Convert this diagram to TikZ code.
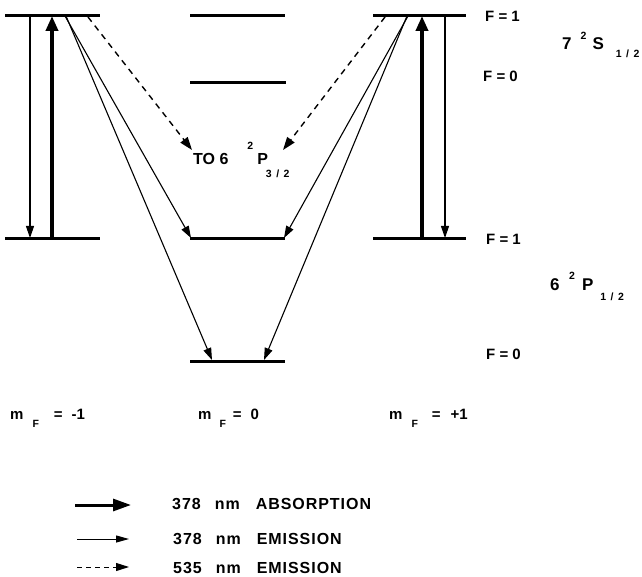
\documentclass[tikz,border=0pt]{standalone}
\usepackage{fontspec}
\setmainfont{Liberation Sans}
\newfontfamily\legfont{Liberation Sans}[LetterSpace=6]
\usetikzlibrary{arrows.meta}
\newcommand{\mylbl}{\fontsize{15pt}{17pt}\selectfont\bfseries}
\newcommand{\mystate}{\fontsize{17pt}{19pt}\selectfont\bfseries}
\newcommand{\mymid}{\fontsize{16pt}{18pt}\selectfont\bfseries}
\newcommand{\mysub}{\fontsize{10.5pt}{12pt}\selectfont\bfseries}
\newcommand{\myfrac}[1]{{\mysub #1\hspace{4.5pt}/\hspace{4.5pt}2}}
\newcommand{\myleg}{\legfont\fontsize{16pt}{18pt}\selectfont\bfseries}
\begin{document}
\begin{tikzpicture}[x=1pt,y=-1pt,
  lev/.style={line width=3pt},
  absarrow/.style={line width=3.8pt,-{Triangle[length=15pt,width=12pt]}},
  emarrow/.style={line width=1.1pt,-{Triangle[length=12pt,width=8pt]}},
  dasharrow/.style={line width=1.4pt,dash pattern=on 6pt off 5pt,-{Triangle[length=13pt,width=9pt]}},
  txt/.style={anchor=base west,inner sep=0pt}]
\useasboundingbox (0,0) rectangle (642,577);
% levels
\coordinate (L1a) at (5,16);   \coordinate (L1b) at (100,16);
\coordinate (L0a) at (5,239);  \coordinate (L0b) at (100,239);
\coordinate (M1a) at (190,16); \coordinate (M1b) at (285,16);
\coordinate (M0a) at (190,83); \coordinate (M0b) at (286,83);
\coordinate (MPa) at (190,239);\coordinate (MPb) at (285,239);
\coordinate (MBa) at (190,361);\coordinate (MBb) at (285,361);
\coordinate (R1a) at (373,16); \coordinate (R1b) at (466,16);
\coordinate (R0a) at (373,239);\coordinate (R0b) at (466,239);
\foreach \a/\b in {L1a/L1b,L0a/L0b,M1a/M1b,M0a/M0b,MPa/MPb,MBa/MBb,R1a/R1b,R0a/R0b}
  \draw[lev] (\a) -- (\b);
% arrow endpoints
\coordinate (lt) at (30,16);  \coordinate (lb) at (30,238);
\coordinate (la) at (52,240); \coordinate (lat) at (52,16);
\coordinate (le1) at (65,16); \coordinate (le2) at (66,16);
\coordinate (ld) at (88,17);
\coordinate (mpl) at (191,238); \coordinate (mbl) at (212,360);
\coordinate (dl) at (192,150); \coordinate (dr) at (283,150);
\coordinate (mpr) at (284,238); \coordinate (mbr) at (264,360);
\coordinate (ra) at (422,240); \coordinate (rat) at (422,16);
\coordinate (rt) at (445,16);  \coordinate (rb) at (445,238);
\coordinate (re1) at (408,16); \coordinate (re2) at (407,16);
\coordinate (rd) at (385,17);
% arrows
\draw[emarrow] (lt) -- (lb);
\draw[absarrow] (la) -- (lat);
\draw[emarrow] (le1) -- (mpl);
\draw[emarrow] (le2) -- (mbl);
\draw[dasharrow] (ld) -- (dl);
\draw[absarrow] (ra) -- (rat);
\draw[emarrow] (rt) -- (rb);
\draw[emarrow] (re1) -- (mpr);
\draw[emarrow] (re2) -- (mbr);
\draw[dasharrow] (rd) -- (dr);
% labels
\node[txt] (f1u) at (485,22) {\mylbl F = 1};
\node[txt] (f0u) at (483,82) {\mylbl F = 0};
\node[txt] (f1l) at (486,244) {\mylbl F = 1};
\node[txt] (f0l) at (486,359) {\mylbl F = 0};
\node[txt] (s12) at (562,50) {\mystate 7\hspace{9pt}\raisebox{10pt}{\mysub 2}\hspace{6pt}S\hspace{12pt}\raisebox{-8pt}{\myfrac{1}}};
\node[txt] (p12) at (550,290) {\mystate 6\hspace{9.5pt}\raisebox{10pt}{\mysub 2}\hspace{7pt}P\hspace{7pt}\raisebox{-10pt}{\myfrac{1}}};
\node[txt] (p32) at (193,165) {\mymid TO 6\hspace{19pt}\raisebox{15pt}{\mysub 2}\hspace{4pt}P\hspace{-2pt}\raisebox{-13pt}{\myfrac{3}}};
\node[txt] (mm) at (10,419) {\mylbl m\hspace{9pt}\raisebox{-8pt}{\mysub F}\hspace{15pt}=\hspace{9pt}-1};
\node[txt] (m0) at (198,419) {\mylbl m\hspace{8pt}\raisebox{-8pt}{\mysub F}\hspace{7pt}=\hspace{9pt}0};
\node[txt] (mp) at (389,419) {\mylbl m\hspace{9pt}\raisebox{-8pt}{\mysub F}\hspace{14pt}=\hspace{10pt}+1};
% legend
\coordinate (a1) at (75,505); \coordinate (a2) at (131,505);
\coordinate (b1) at (77,539); \coordinate (b2) at (129,539);
\coordinate (c1) at (77,567); \coordinate (c2) at (129,567);
\draw[line width=3pt,-{Triangle[length=18pt,width=12pt]}] (a1) -- (a2);
\draw[line width=1pt,-{Triangle[length=13pt,width=7pt]}] (b1) -- (b2);
\draw[line width=1pt,dash pattern=on 5pt off 4pt,-{Triangle[length=13pt,width=8pt]}] (c1) -- (c2);
\node[txt] (t1) at (172,509) {\myleg 378\hspace{14pt}nm\hspace{16pt}ABSORPTION};
\node[txt] (t2) at (173,544) {\myleg 378\hspace{14pt}nm\hspace{16pt}EMISSION};
\node[txt] (t3) at (173,573) {\myleg 535\hspace{14pt}nm\hspace{16pt}EMISSION};
\end{tikzpicture}
\end{document}
